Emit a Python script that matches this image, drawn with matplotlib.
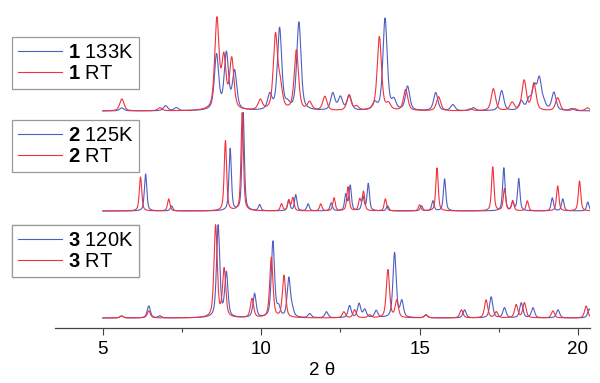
import numpy as np
import matplotlib
matplotlib.use("Agg")
from matplotlib import pyplot as plt

plt.rcParams['font.family'] = ['Liberation Sans', 'DejaVu Sans']
plt.rcParams['mathtext.fontset'] = 'custom'
plt.rcParams['mathtext.rm'] = 'Liberation Sans'
plt.rcParams['mathtext.bf'] = 'Liberation Sans:bold'

# peak lists: (2theta, intensity)
cmp1_cold = [(5.60, 3), (6.98, 5), (7.32, 3), (8.59, 55), (8.90, 56), (9.16, 38),
             (10.27, 15), (10.58, 82), (10.83, 5), (11.19, 88), (12.26, 17),
             (12.50, 13), (12.78, 15), (13.58, 7), (13.91, 92), (14.19, 9),
             (14.62, 24), (15.51, 18), (16.05, 6), (16.70, 3), (17.59, 20),
             (18.21, 9), (18.45, 10), (18.62, 22), (18.78, 30), (18.92, 6),
             (19.24, 18), (19.80, 2)]
cmp1_rt = [(5.60, 12), (6.80, 3), (8.60, 90), (8.82, 50), (9.07, 50), (9.97, 10),
           (10.45, 74), (10.60, 22), (11.11, 60), (11.53, 8), (12.01, 14),
           (12.77, 15), (13.01, 4), (13.73, 74), (14.02, 6), (14.56, 21),
           (15.60, 14), (16.60, 2), (17.33, 22), (17.92, 8), (18.30, 30),
           (18.61, 27), (19.36, 13), (19.89, 2), (20.30, 3)]

cmp2_cold = [(6.35, 37), (7.17, 5), (9.02, 62), (9.43, 98), (9.95, 6),
             (10.87, 11), (11.09, 16), (11.48, 7), (12.21, 8), (12.67, 16),
             (12.81, 25), (13.21, 14), (13.38, 27), (13.99, 5), (15.06, 5),
             (15.42, 10), (15.79, 32), (17.66, 43), (17.94, 8), (18.13, 32),
             (19.19, 13), (19.52, 12), (20.31, 9)]
cmp2_rt = [(6.19, 34), (7.08, 12), (8.87, 70), (9.40, 98), (10.64, 7),
           (10.87, 10), (11.00, 13), (11.88, 7), (12.30, 13), (12.74, 24),
           (13.11, 11), (13.23, 19), (13.92, 12), (15.00, 6), (15.55, 43),
           (17.31, 44), (17.68, 22), (17.94, 10), (18.40, 10), (19.36, 25),
           (20.05, 30)]

cmp3_cold = [(5.59, 2), (6.45, 12), (6.80, 2), (8.64, 92), (8.90, 44),
             (9.79, 24), (10.37, 76), (10.55, 9), (10.87, 39), (10.98, 7),
             (11.53, 4), (12.06, 6), (12.79, 12), (13.09, 14), (13.27, 8),
             (13.63, 7), (14.21, 65), (14.44, 16), (15.20, 3), (16.42, 8),
             (17.26, 21), (17.68, 10), (18.21, 15), (18.58, 10), (19.37, 8),
             (20.36, 9)]
cmp3_rt = [(5.59, 2), (6.45, 7), (8.56, 92), (8.83, 48), (9.71, 19),
           (10.32, 60), (10.72, 42), (12.61, 6), (12.95, 8), (13.42, 3),
           (14.00, 48), (14.28, 17), (15.20, 3), (16.32, 8), (17.10, 18),
           (17.42, 6), (18.05, 13), (18.31, 15), (19.21, 7), (20.26, 12)]

labels_cold = [r"$\mathbf{1}$ 133K", r"$\mathbf{2}$ 125K", r"$\mathbf{3}$ 120K"]
labels_rt = [r"$\mathbf{1}$ RT", r"$\mathbf{2}$ RT", r"$\mathbf{3}$ RT"]

blue = '#4d5ec4'
red = '#f2323c'

twotheta = np.linspace(5.0, 20.38, 4000)


def pattern(peaks, hw):
    y = np.zeros_like(twotheta)
    for pos, h in peaks:
        d = (twotheta - pos) / hw
        y += h * (0.55 / (1 + d ** 2) + 0.45 * np.exp(-np.log(2) * d ** 2))
    return y


fig = plt.figure(figsize=(6, 3.83), dpi=100)
ax = fig.add_axes([55 / 600, 55 / 383, 535 / 600, 318 / 383])

offsets = [217, 117, 10]
widths = [0.08, 0.045, 0.06]
legend_tops = [37, 120, 225]
series = [(cmp1_cold, cmp1_rt), (cmp2_cold, cmp2_rt), (cmp3_cold, cmp3_rt)]

for i, (cold, rt) in enumerate(series):
    lc, = ax.plot(twotheta, pattern(cold, widths[i]) + offsets[i], color=blue, lw=0.8)
    lr, = ax.plot(twotheta, pattern(rt, widths[i]) + offsets[i], color=red, lw=0.8)
    leg = ax.legend([lc, lr], [labels_cold[i], labels_rt[i]], loc='upper left',
                    bbox_to_anchor=(12 / 600, 1 - legend_tops[i] / 383),
                    bbox_transform=fig.transFigure, borderaxespad=0,
                    fontsize=14.5, handlelength=2.2, handletextpad=0.3,
                    labelspacing=0.12, borderpad=0.28, fancybox=False,
                    framealpha=1, edgecolor='#999999')
    leg.get_frame().set_linewidth(0.9)
    ax.add_artist(leg)

ax.set_xlim(3.49, 20.38)
ax.set_ylim(0, 318)
for s in ['left', 'top', 'right']:
    ax.spines[s].set_visible(False)
ax.spines['bottom'].set_color('#444444')
ax.spines['bottom'].set_linewidth(0.9)
ax.set_yticks([])
ax.set_xticks([5, 10, 15, 20])
ax.set_xticks([7.5, 12.5, 17.5], minor=True)
ax.tick_params(axis='x', which='major', length=5, width=0.8, color='#444444',
               labelsize=13.5, pad=4)
ax.tick_params(axis='x', which='minor', length=3, width=0.8, color='#444444')
ax.set_xlabel("2 θ", fontsize=13.5, labelpad=3)

fig.savefig("out.png", dpi=100)
